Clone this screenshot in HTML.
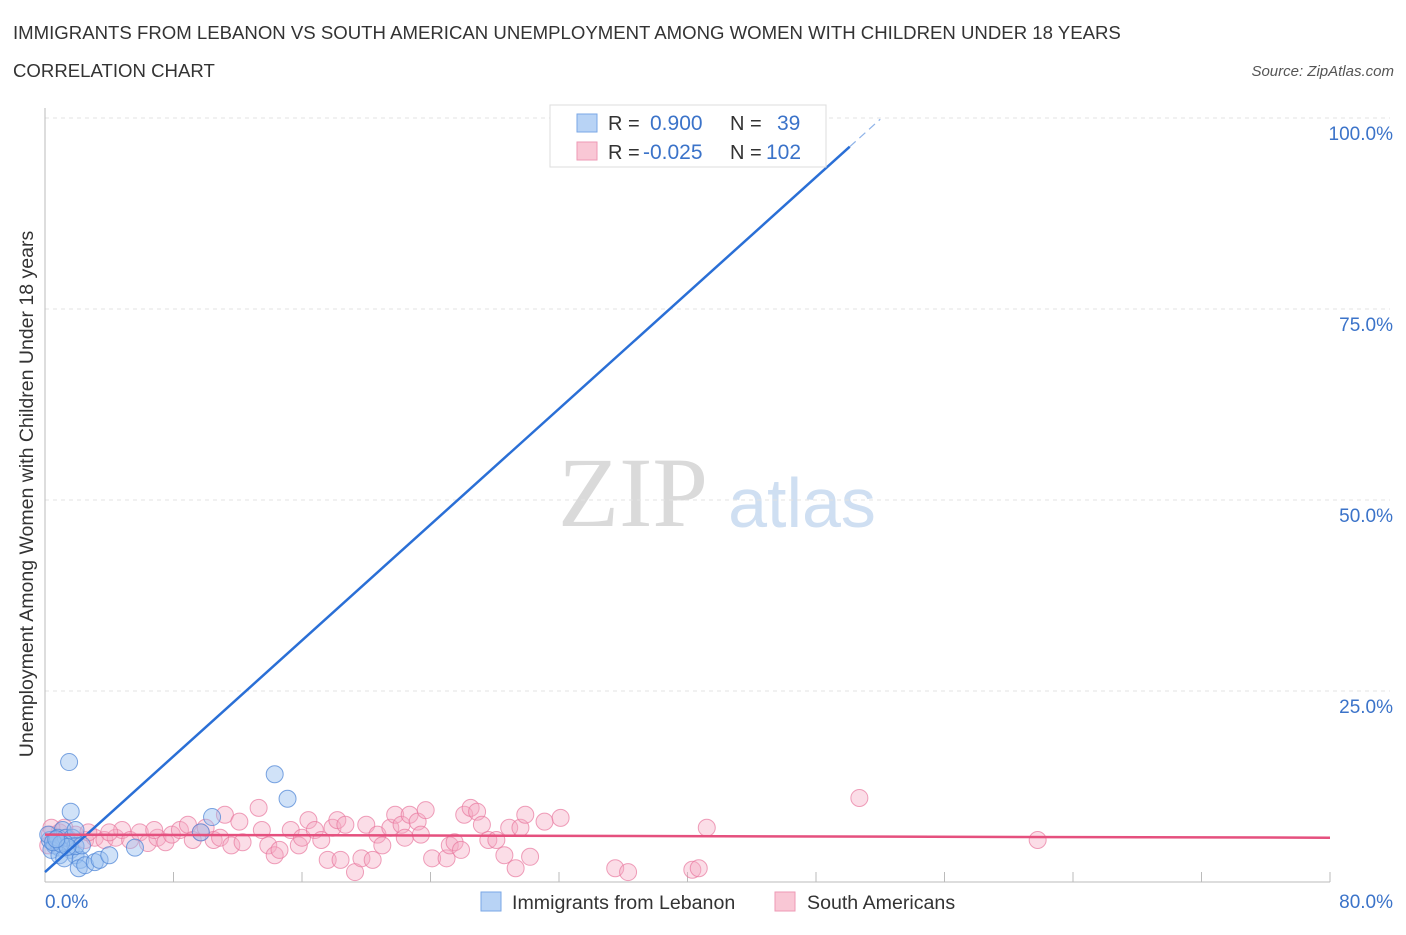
<!DOCTYPE html>
<html><head><meta charset="utf-8">
<style>
body{margin:0;background:#fff;font-family:"Liberation Sans",sans-serif;}
</style></head>
<body>
<svg id="chart" width="1406" height="930" xmlns="http://www.w3.org/2000/svg" font-family="Liberation Sans, sans-serif">
<text x="13" y="39" font-size="18.6" fill="#333">IMMIGRANTS FROM LEBANON VS SOUTH AMERICAN UNEMPLOYMENT AMONG WOMEN WITH CHILDREN UNDER 18 YEARS</text>
<text x="13" y="77" font-size="18.6" fill="#333">CORRELATION CHART</text>
<text x="1394" y="76" font-size="15" fill="#555" font-style="italic" text-anchor="end">Source: ZipAtlas.com</text>
<g>
<text x="633" y="526" font-size="100" fill="#dadada" style="font-family:'Liberation Serif',serif" text-anchor="middle">ZIP</text>
<text x="802" y="527" font-size="70" fill="#cfdff2" text-anchor="middle">atlas</text>
</g>
<g id="grid"></g>
<g id="axes"></g>
<g id="marks"></g>
<text transform="translate(33,494) rotate(-90)" font-size="19.5" fill="#333" text-anchor="middle">Unemployment Among Women with Children Under 18 years</text>
<g>
<rect x="550" y="105" width="276" height="62" fill="#fff" stroke="#ddd"/>
<rect x="577" y="114" width="20" height="18" fill="#b8d3f5" stroke="#7aa7e6"/>
<rect x="577" y="142" width="20" height="18" fill="#f9c7d5" stroke="#ee9ab5"/>
<text x="608" y="130" font-size="20" fill="#333">R =</text>
<text x="650" y="130" font-size="21" fill="#3b73c9">0.900</text>
<text x="730" y="130" font-size="20" fill="#333">N =</text>
<text x="777" y="130" font-size="21" fill="#3b73c9">39</text>
<text x="608" y="159" font-size="20" fill="#333">R =</text>
<text x="643" y="159" font-size="21" fill="#3b73c9">-0.025</text>
<text x="730" y="159" font-size="20" fill="#333">N =</text>
<text x="766" y="159" font-size="21" fill="#3b73c9">102</text>
</g>
<g>
<rect x="481" y="892" width="20" height="19" fill="#b8d3f5" stroke="#7aa7e6"/>
<text x="512" y="909" font-size="19.6" fill="#333">Immigrants from Lebanon</text>
<rect x="775" y="892" width="20" height="19" fill="#f9c7d5" stroke="#ee9ab5"/>
<text x="807" y="909" font-size="19.6" fill="#333">South Americans</text>
</g>
</svg>
<script>
const yTicks=[25,50,75,100];
const yTickLabels=["25.0%","50.0%","75.0%","100.0%"];
const xTicks=[0,8,16,24,32,40,48,56,64,72,80];
const blueX=[1.5,1.6,1.1,0.3,0.6,0.9,1.2,1.6,1.9,2.2,2.1,2.5,3.1,3.4,4.0,5.6,10.4,14.3,15.1,42.3,0.2,0.4,0.8,1.3,1.7,1.9,0.9,1.2,1.9,2.3,9.7,0.5,1.0,1.4,0.7];
const blueY=[15.7,9.2,6.8,5.5,4.8,4.5,5.1,4.2,3.5,2.9,1.8,2.2,2.6,2.9,3.5,4.5,8.5,14.1,10.9,100.3,6.2,4.2,5.8,5.8,5.8,6.8,3.5,3.1,4.7,4.8,6.5,5.2,5.0,4.6,5.6];
const pinkX=[0.3,0.6,0.9,1.4,1.9,2.5,3.1,3.7,4.4,4.8,5.3,5.9,6.4,7.0,7.5,7.9,8.4,8.9,9.2,9.7,10.0,10.5,10.9,11.2,11.6,12.1,12.3,13.3,13.5,13.9,14.3,14.6,15.3,15.8,16.0,16.4,16.8,17.2,17.6,17.9,18.4,18.2,18.7,19.3,19.7,20.0,20.4,20.7,21.0,21.5,21.8,22.2,22.4,22.7,23.2,23.4,23.7,24.1,25.0,25.2,25.5,25.9,26.1,26.5,26.9,27.2,27.6,28.1,28.6,28.9,29.3,29.6,29.9,30.2,31.1,32.1,35.5,36.3,40.3,40.7,41.2,50.7,61.8,0.2,0.4,1.2,2.7,4.0,6.8];
const pinkY=[6.2,5.5,6.5,5.8,6.2,5.5,5.8,5.5,5.8,6.8,5.5,6.5,5.1,5.8,5.2,6.2,6.8,7.5,5.5,6.5,7.1,5.5,5.8,8.8,4.8,7.9,5.2,9.7,6.8,4.8,3.5,4.2,6.8,4.8,5.8,8.1,6.8,5.5,2.9,7.1,2.9,8.1,7.5,1.3,3.1,7.5,2.9,6.2,4.8,7.1,8.8,7.5,5.8,8.8,7.9,6.2,9.4,3.1,3.1,4.8,5.2,4.2,8.8,9.7,9.2,7.5,5.5,5.5,3.5,7.1,1.8,7.1,8.8,3.3,7.9,8.4,1.8,1.3,1.6,1.8,7.1,11.0,5.5,4.8,7.1,7.1,6.5,6.5,6.8];
const blueTrend=[1.3,1.895];
const pinkTrend=[6.2,-0.005];
const NS="http://www.w3.org/2000/svg";
const X0=45,X1=1330,Y0=882,Y100=118;
const sx=v=>X0+v*(X1-X0)/80;
const sy=v=>Y0-v*(Y0-Y100)/100;
function mk(tag,attrs,parent){const e=document.createElementNS(NS,tag);for(const k in attrs)e.setAttribute(k,attrs[k]);parent.appendChild(e);return e;}
const grid=document.getElementById('grid'),axes=document.getElementById('axes'),marks=document.getElementById('marks');
yTicks.forEach((t,i)=>{
 const l=mk('line',{x1:X0,x2:X1+60,y1:sy(t),y2:sy(t),stroke:'#e3e3e3','stroke-dasharray':'4,4','stroke-width':1},grid);
 
 
 const tx=mk('text',{x:1393,y:sy(t)+22,'font-size':19,fill:'#3b73c9','text-anchor':'end'},axes);
 tx.textContent=yTickLabels[i];
 
 
});
const xa=mk('line',{x1:X0,x2:X1,y1:Y0,y2:Y0,stroke:'#bbb'},axes);


const ya=mk('line',{x1:X0,x2:X0,y1:108,y2:Y0,stroke:'#bbb'},axes);


xTicks.forEach(t=>{
 const l=mk('line',{x1:sx(t),x2:sx(t),y1:Y0,y2:Y0-10,stroke:'#bbb'},axes);
 
 
});
const xl0=mk('text',{x:45,y:908,'font-size':19,fill:'#3b73c9'},axes);xl0.textContent='0.0%';


const xl1=mk('text',{x:1393,y:908,'font-size':19,fill:'#3b73c9','text-anchor':'end'},axes);xl1.textContent='80.0%';


pinkX.forEach((x,i)=>{
 const c=mk('circle',{cx:sx(x),cy:sy(pinkY[i]),r:8.5,fill:'rgba(246,170,195,0.4)',stroke:'rgba(232,120,158,0.7)','stroke-width':1},marks);
 
 
});
blueX.forEach((x,i)=>{
 const c=mk('circle',{cx:sx(x),cy:sy(blueY[i]),r:8.5,fill:'rgba(150,190,240,0.45)',stroke:'rgba(80,135,215,0.75)','stroke-width':1},marks);
 
 
});
const bt=v=>blueTrend[0]+blueTrend[1]*v;
const b1=mk('line',{x1:sx(0),y1:sy(bt(0)),x2:sx(50.1),y2:sy(bt(50.1)),stroke:'#2a6fd6','stroke-width':2.5},marks);


const b2=mk('line',{x1:sx(50.1),y1:sy(bt(50.1)),x2:sx(52),y2:sy(bt(52)),stroke:'#8fb3e8','stroke-width':1.2,'stroke-dasharray':'8,5'},marks);


const pt=v=>pinkTrend[0]+pinkTrend[1]*v;
const p1=mk('line',{x1:sx(0),y1:sy(pt(0)),x2:sx(80),y2:sy(pt(80)),stroke:'#e5507e','stroke-width':2.5},marks);


</script>
</body></html>
